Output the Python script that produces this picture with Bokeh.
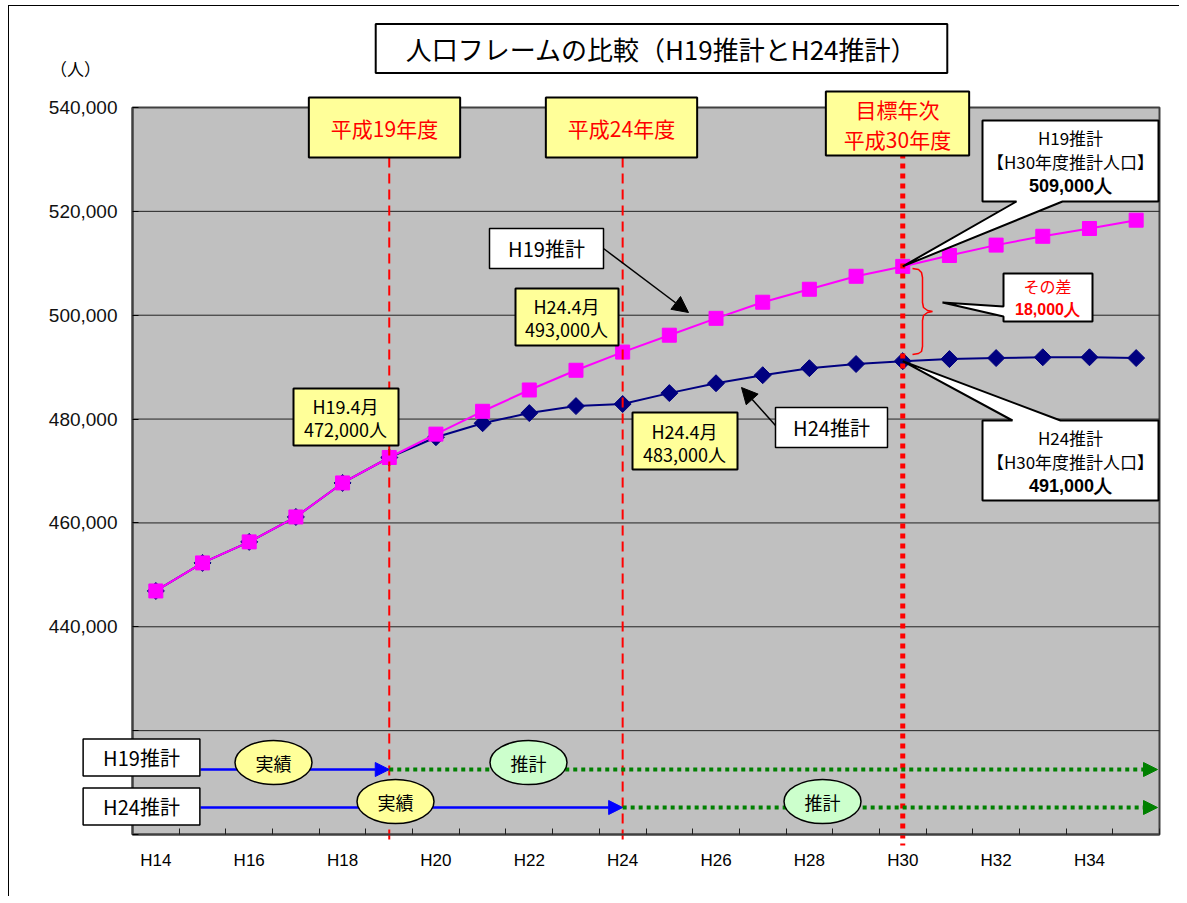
from bokeh.plotting import figure
from bokeh.models import Label, Arrow, NormalHead, FixedTicker, NumeralTickFormatter, Range1d
from bokeh.embed import file_html
from bokeh.resources import INLINE

# ---------------- data ----------------
years = [14, 15, 16, 17, 18, 19, 20, 21, 22, 23, 24, 25, 26, 27, 28, 29, 30, 31, 32, 33, 34, 35]
label_years = [14, 16, 18, 20, 22, 24, 26, 28, 30, 32, 34]
h19_proj = [446900, 452300, 456350, 461150, 467700, 472600, 477100, 481500, 485600, 489400, 492900,
            496150, 499400, 502500, 505000, 507500, 509400, 511500, 513500, 515200, 516700, 518300]
h24_proj = [446900, 452300, 456350, 461150, 467700, 472600, 476500, 479200, 481150, 482500, 482900,
            485000, 486900, 488450, 489800, 490600, 491150, 491550, 491750, 491900, 491900, 491750]
y_ticks = [400000, 420000, 440000, 460000, 480000, 500000, 520000, 540000]
hidden_y_ticks = [400000, 420000]
marker_years = [19, 24, 30]          # 平成19年度, 平成24年度, 目標年次 平成30年度

JP = "Noto Sans CJK JP"
SANS = "Liberation Sans"
NARROW = "'Liberation Sans Narrow', 'Liberation Sans', sans-serif"

# plot-area geometry (page pixels) used only to place annotations
FX0, FX1, FY0, FY1 = 132, 1159, 107, 834
XMIN, XMAX, YMIN, YMAX = 13.5, 35.5, 400000, 540000
CL, CT, CW, CH = 9, 6, 1170, 890     # canvas position / size on the page


def fx(px):
    return XMIN + (px - FX0) * (XMAX - XMIN) / (FX1 - FX0)


def fy(py):
    return YMAX - (py - FY0) * (YMAX - YMIN) / (FY1 - FY0)


p = figure(frame_width=CW, frame_height=CH, min_border=0,
           x_range=Range1d(fx(CL), fx(CL + CW)), y_range=Range1d(fy(CT + CH), fy(CT)),
           output_backend="svg", toolbar_location=None, title=None)
p.styles = {"margin-left": "8px", "margin-top": "5px",
            "border-left": "1px solid black", "border-top": "1px solid black"}

p.background_fill_color = "white"
p.border_fill_color = "white"
p.outline_line_color = None
p.grid.visible = False

# gray plot area + horizontal grid lines
p.quad(left=XMIN, right=XMAX, bottom=YMIN, top=YMAX, fill_color="#C0C0C0",
       line_color="#404040", line_width=2)
grid_vals = [v for v in y_ticks if v not in (YMIN, YMAX)]
p.segment(x0=[XMIN] * len(grid_vals), x1=[XMAX] * len(grid_vals), y0=grid_vals, y1=grid_vals,
          line_color="#222222", line_width=1)

# axes (placed at the edges of the plot area)
p.xaxis.fixed_location = YMIN
p.xaxis.bounds = (XMIN, XMAX)
p.xaxis.ticker = FixedTicker(ticks=label_years, minor_ticks=[y - 0.5 for y in years] + [35.5])
p.xaxis.major_label_overrides = {y: f"H{y}" for y in label_years}
p.xaxis.major_tick_in = 0
p.xaxis.major_tick_out = 0
p.xaxis.minor_tick_in = 6
p.xaxis.minor_tick_out = 0
p.xaxis.minor_tick_line_color = "#202020"
p.xaxis.axis_line_color = "#404040"
p.xaxis.axis_line_width = 2
p.xaxis.major_label_text_font = NARROW
p.xaxis.major_label_text_font_size = "17px"
p.xaxis.major_label_text_color = "black"
p.xaxis.major_label_standoff = 16

p.yaxis.fixed_location = XMIN
p.yaxis.bounds = (YMIN, YMAX)
p.yaxis.ticker = FixedTicker(ticks=y_ticks)
p.yaxis.formatter = NumeralTickFormatter(format="0,0")
p.yaxis.major_label_overrides = {v: "" for v in hidden_y_ticks}
p.yaxis.major_tick_in = 6
p.yaxis.major_tick_out = 0
p.yaxis.minor_tick_line_color = None
p.yaxis.axis_line_color = "#404040"
p.yaxis.axis_line_width = 2
p.yaxis.major_label_text_font = SANS
p.yaxis.major_label_text_font_size = "19px"
p.yaxis.major_label_text_color = "#111111"
p.yaxis.major_label_standoff = 15

# ---------------- series ----------------
p.line(years, h24_proj, line_color="#000080", line_width=2)
p.scatter(years, h24_proj, marker="square", angle=0.785398, size=12, fill_color="#000080", line_color="#000080")
p.line(years, h19_proj, line_color="#FF00FF", line_width=2)
p.scatter(years, h19_proj, marker="square", size=14, fill_color="#FF00FF", line_color="#FF00FF")

# ---------------- vertical reference lines ----------------
p.segment(x0=marker_years[0], x1=marker_years[0], y0=fy(157), y1=fy(845), line_color="#FF0000",
          line_width=2, line_dash="10 6")
p.segment(x0=marker_years[1], x1=marker_years[1], y0=fy(157), y1=fy(845), line_color="#FF0000",
          line_width=2, line_dash="10 6")
p.segment(x0=marker_years[2], x1=marker_years[2], y0=fy(153), y1=fy(845), line_color="#FF0000",
          line_width=5, line_dash="5 5")

# ---------------- timelines at the bottom ----------------
ty19, ty24 = fy(769), fy(807)
p.add_layout(Arrow(x_start=fx(200), y_start=ty19, x_end=marker_years[0], y_end=ty19,
                   line_color="#0000FF", line_width=2.5,
                   end=NormalHead(size=14, fill_color="#0000FF", line_color="#0000FF")))
p.add_layout(Arrow(x_start=marker_years[0], y_start=ty19, x_end=fx(1157), y_end=ty19,
                   line_color="#008000", line_width=4, line_dash="4 4",
                   end=NormalHead(size=14, fill_color="#008000", line_color="#008000")))
p.add_layout(Arrow(x_start=fx(200), y_start=ty24, x_end=marker_years[1], y_end=ty24,
                   line_color="#0000FF", line_width=2.5,
                   end=NormalHead(size=14, fill_color="#0000FF", line_color="#0000FF")))
p.add_layout(Arrow(x_start=marker_years[1], y_start=ty24, x_end=fx(1157), y_end=ty24,
                   line_color="#008000", line_width=4, line_dash="4 4",
                   end=NormalHead(size=14, fill_color="#008000", line_color="#008000")))

ew, eh = 77 * (XMAX - XMIN) / (FX1 - FX0), 44 * (YMAX - YMIN) / (FY1 - FY0)
ell = [(273, 762, "#FFFF99", "実績"), (528, 762, "#CCFFCC", "推計"),
       (395, 801, "#FFFF99", "実績"), (822, 801, "#CCFFCC", "推計")]
for ex, ey, col, txt in ell:
    p.ellipse(x=fx(ex), y=fy(ey), width=ew, height=eh, fill_color=col, line_color="black",
              line_width=1.5, level="overlay")
for ex, ey, col, txt in ell:
    p.add_layout(Label(x=fx(ex), y=fy(ey), text=txt, text_align="center", text_baseline="middle",
                       text_font=JP, text_font_size="18px", text_color="black", level="overlay"))


def box_label(cx, cy, text, size, color, fill, pad, bold=False, lw=2, lh=1.2):
    p.add_layout(Label(x=fx(cx), y=fy(cy), text=text, text_align="center", text_baseline="middle",
                       text_font=JP, text_font_size=size, text_color=color, text_line_height=lh,
                       text_font_style="bold" if bold else "normal",
                       background_fill_color=fill, border_line_color="black", border_line_width=lw,
                       padding=dict(left=pad[0], right=pad[0], top=pad[1], bottom=pad[1])))


def plain_label(cx, cy, text, size, color="black", bold=False, font=JP):
    p.add_layout(Label(x=fx(cx), y=fy(cy), text=text, text_align="center", text_baseline="middle",
                       text_font=font, text_font_size=size, text_color=color,
                       text_font_style="bold" if bold else "normal"))


# title & unit
box_label(661, 48, "人口フレームの比較（H19推計とH24推計）", "26px", "black", "white", (30, 6))
plain_label(75, 68, "（人）", "17px")

# bottom row labels
box_label(141, 757, "H19推計", "20px", "black", "white", (20, 4), lw=1.5)
box_label(141, 806, "H24推計", "20px", "black", "white", (20, 4), lw=1.5)

# ---------------- year boxes at the top ----------------
box_label(384, 127, "平成19年度", "21px", "#FF0000", "#FFFF99", (22, 15))
box_label(621, 127, "平成24年度", "21px", "#FF0000", "#FFFF99", (22, 15))
box_label(897, 123, "目標年次\n平成30年度", "21px", "#FF0000", "#FFFF99", (18, 2), lh=1.0)

# ---------------- yellow value boxes ----------------
for (l, t, r, b) in [(293, 388, 398, 445), (515, 288, 618, 345), (632, 412, 737, 469)]:
    p.quad(left=fx(l), right=fx(r), top=fy(t), bottom=fy(b), fill_color="#FFFF99",
           line_color="black", line_width=2)
plain_label(345, 405, "H19.4月", "18px")
plain_label(345, 428, "472,000人", "18px")
plain_label(566, 305, "H24.4月", "18px")
plain_label(566, 328, "493,000人", "18px")
plain_label(684, 430, "H24.4月", "18px")
plain_label(684, 453, "483,000人", "18px")

# ---------------- series name boxes with arrows ----------------
p.add_layout(Arrow(x_start=fx(603), y_start=fy(248), x_end=fx(688), y_end=fy(312),
                   line_color="black", line_width=1.5,
                   end=NormalHead(size=16, fill_color="black", line_color="black")))
p.add_layout(Arrow(x_start=fx(775), y_start=fy(425), x_end=fx(741), y_end=fy(387),
                   line_color="black", line_width=1.5,
                   end=NormalHead(size=16, fill_color="black", line_color="black")))
p.quad(left=fx(489), right=fx(603), top=fy(228), bottom=fy(268), fill_color="white", line_color="black", line_width=1.5)
p.quad(left=fx(775), right=fx(887), top=fy(407), bottom=fy(447), fill_color="white", line_color="black", line_width=1.5)
plain_label(546, 248, "H19推計", "20px")
plain_label(831, 427, "H24推計", "20px")

# ---------------- callouts ----------------
i30 = years.index(marker_years[2])
tip19 = (marker_years[2], h19_proj[i30])
tip24 = (marker_years[2], h24_proj[i30])
call19 = [(982, 120), (1158, 120), (1158, 201), (1062, 201), None, (1016, 201), (982, 201)]
call24 = [(982, 420), (1012, 420), None, (1060, 420), (1158, 420), (1158, 500), (982, 500)]
calld = [(1003, 273), (1092, 273), (1092, 321), (1003, 321), (1003, 316), (942, 302), (1003, 306)]


def poly(pts, tip):
    xs, ys = [], []
    for pt in pts:
        if pt is None:
            xs.append(tip[0]); ys.append(tip[1])
        else:
            xs.append(fx(pt[0])); ys.append(fy(pt[1]))
    return xs, ys


xs, ys = poly(call19, tip19)
p.patch(xs, ys, fill_color="white", line_color="black", line_width=2)
xs, ys = poly(call24, tip24)
p.patch(xs, ys, fill_color="white", line_color="black", line_width=2)
xs, ys = poly(calld, None)
p.patch(xs, ys, fill_color="white", line_color="black", line_width=2)

plain_label(1070, 137, "H19推計", "17px")
plain_label(1070, 161, "【H30年度推計人口】", "17px")
plain_label(1070, 185, "509,000人", "18px", bold=True, font=SANS)
plain_label(1070, 437, "H24推計", "17px")
plain_label(1070, 461, "【H30年度推計人口】", "17px")
plain_label(1070, 485, "491,000人", "18px", bold=True, font=SANS)
plain_label(1047, 285, "その差", "16px", color="#FF0000")
plain_label(1047, 309, "18,000人", "16px", color="#FF0000", bold=True, font=SANS)

# curly brace
brace_px = [(912, 268), (918, 269), (921, 272), (922, 277), (922, 302), (923, 307), (927, 310), (932, 311),
            (927, 312), (923, 315), (922, 320), (922, 346), (921, 351), (918, 353), (912, 354)]
p.line([fx(a) for a, _ in brace_px], [fy(b) for _, b in brace_px], line_color="#FF0000", line_width=1.5)

open("out.html", "w").write(file_html(p, INLINE))
